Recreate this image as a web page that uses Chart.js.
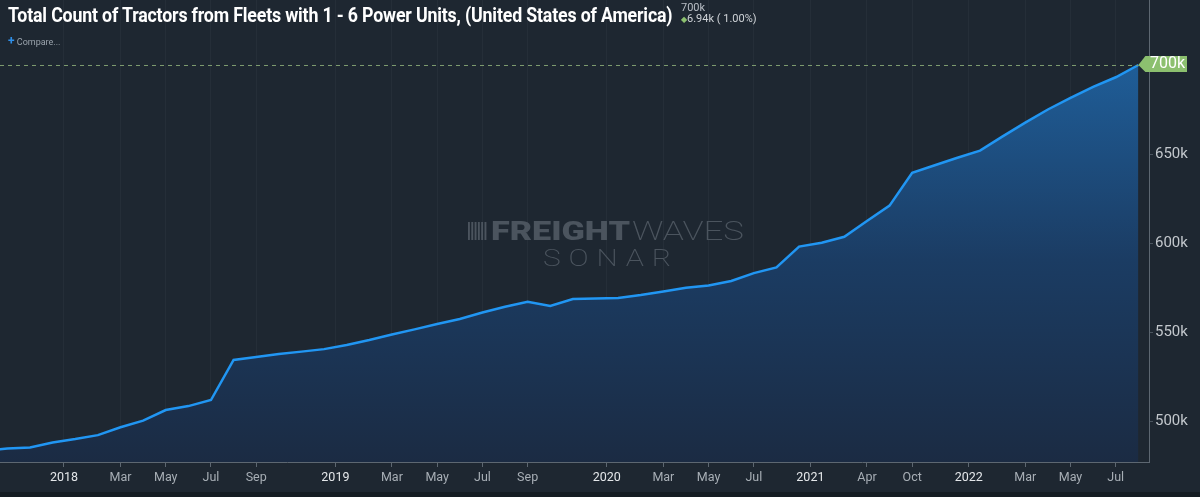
<!DOCTYPE html>
<html>
<head>
<meta charset="utf-8">
<script src="https://cdn.jsdelivr.net/npm/chart.js@4.4.1/dist/chart.umd.min.js"></script>
<style>
  html, body { margin: 0; padding: 0; background: #1e2731; }
  #wrap { position: relative; width: 1200px; height: 497px; }
  #title {
    position: absolute; left: 8px; top: 3px; color: #ffffff;
    font: bold 20px Roboto, sans-serif; white-space: nowrap;
    transform-origin: 0 0; letter-spacing: -0.2px;
  }
  #last { position: absolute; left: 681px; top: 2px; font: 11px Roboto, sans-serif; color: #b8bec5; line-height: 11px; }
  #last .chg { color: #d0d4d8; }
  #last .dia { color: #8cc06f; font-size: 8px; }
  #compare { position: absolute; left: 8px; top: 34px; font: 9px Roboto, sans-serif; color: #9aa3ac; }
  #compare b { color: #2f8fe8; font-size: 12px; font-weight: bold; }
</style>
</head>
<body>
<div id="wrap">
  <canvas id="chart" width="1200" height="497"></canvas>
  <div id="title">Total Count of Tractors from Fleets with 1 - 6 Power Units, (United States of America)</div>
  <div id="last">700k<br><span class="dia">&#9670;</span><span class="chg">6.94k ( 1.00%)</span></div>
  <div id="compare"><b>+</b> Compare...</div>
</div>
<script>
// one point per reported month (some months missing in late 2020 / 2021)
const months = [
  '2017-09', '2017-10', '2017-11', '2017-12',
  '2018-01', '2018-02', '2018-03', '2018-04', '2018-05', '2018-06',
  '2018-07', '2018-08', '2018-09', '2018-10', '2018-11', '2018-12',
  '2019-01', '2019-02', '2019-03', '2019-04', '2019-05', '2019-06',
  '2019-07', '2019-08', '2019-09', '2019-10', '2019-11', '2019-12',
  '2020-01', '2020-02', '2020-03', '2020-04', '2020-05', '2020-06',
  '2020-07', '2020-09', '2020-11',
  '2021-01', '2021-03', '2021-04', '2021-07', '2021-10', '2021-11', '2021-12',
  '2022-01', '2022-02', '2022-03', '2022-04', '2022-05', '2022-06',
  '2022-07', '2022-08'
];

// tractors, thousands
const tractors = [
  483.2, 484.6, 485.2, 488.0,
  489.9, 492.1, 496.5, 500.2, 506.2, 508.4,
  511.8, 534.3, 536.0, 537.6, 539.0, 540.4,
  542.7, 545.5, 548.6, 551.5, 554.5, 557.3,
  561.0, 564.2, 567.0, 564.6, 568.5, 568.8,
  569.1, 570.8, 572.8, 574.9, 576.2, 578.7,
  583.1, 586.3, 598.0,
  600.2, 603.5, 612.4, 621.0, 639.5, 643.7, 647.9,
  651.9, 659.9, 667.6, 675.0, 681.5, 687.7,
  693.1, 700.0
];

// x-axis labels: years sit between Dec and Jan, months on their point
const xTickLabels = [
  '2018', 'Mar', 'May', 'Jul', 'Sep',
  '2019', 'Mar', 'May', 'Jul', 'Sep',
  '2020', 'Mar', 'May', 'Jul',
  '2021', 'Apr', 'Oct',
  '2022', 'Mar', 'May', 'Jul'
];
const xTickMonths = [
  '2018-01', '2018-03', '2018-05', '2018-07', '2018-09',
  '2019-01', '2019-03', '2019-05', '2019-07', '2019-09',
  '2020-01', '2020-03', '2020-05', '2020-07',
  '2021-01', '2021-04', '2021-10',
  '2022-01', '2022-03', '2022-05', '2022-07'
];

const yTicks = [500, 550, 600, 650];

const tickPos = xTickMonths.map((m, i) => {
  const idx = months.indexOf(m);
  return /^\d{4}$/.test(xTickLabels[i]) ? idx - 0.5 : idx;
});
const tickLabelAt = {};
tickPos.forEach((p, i) => { tickLabelAt[p] = xTickLabels[i]; });

const last = tractors.length - 1;

// draw text squeezed/stretched to a given width
function fitText(c, txt, x, y, w) {
  const m = c.measureText(txt).width;
  c.save();
  c.translate(x, y);
  c.scale(w / m, 1);
  c.fillText(txt, 0, 0);
  c.restore();
}

const decor = {
  id: 'decor',
  beforeDraw(chart) {
    const c = chart.ctx;
    c.save();
    c.fillStyle = '#1e2731';
    c.fillRect(0, 0, chart.width, chart.height);
    c.fillStyle = '#151c23';
    c.fillRect(0, 492, chart.width, chart.height - 492);
    c.restore();
  },
  beforeDatasetsDraw(chart) {
    const c = chart.ctx;
    c.save();
    // watermark
    c.fillStyle = '#4b545e';
    for (let i = 0; i < 6; i++) {
      c.fillRect(468 + i * 3.3, 222, 1.9, 18);
    }
    c.textBaseline = 'alphabetic';
    c.font = '900 25px Roboto';
    fitText(c, 'FREIGHT', 491, 240, 139);
    c.font = '200 25px Roboto';
    fitText(c, 'WAVES', 632, 240, 112);
    c.font = '200 23px Roboto';
    c.letterSpacing = '6px';
    fitText(c, 'SONAR', 543, 266, 136);
    c.letterSpacing = '0px';
    // zoom buttons
    c.fillStyle = 'rgba(255,255,255,0.035)';
    c.fillRect(572, 424, 46, 18);
    c.fillStyle = '#d6dade';
    c.font = 'bold 15px Roboto';
    c.textAlign = 'center';
    c.textBaseline = 'middle';
    c.fillText('\u2212', 582, 433);
    c.fillText('+', 606, 433);
    c.restore();
  },
  afterDatasetsDraw(chart) {
    const c = chart.ctx;
    const x = chart.scales.x.getPixelForValue(last);
    const y = chart.scales.y.getPixelForValue(tractors[last]);
    c.save();
    c.strokeStyle = '#7f9c70';
    c.lineWidth = 1;
    c.setLineDash([4, 4]);
    c.beginPath();
    c.moveTo(0, y + 0.5);
    c.lineTo(x, y + 0.5);
    c.stroke();
    c.setLineDash([]);
    // last value tag
    c.fillStyle = '#8cc06f';
    c.beginPath();
    c.moveTo(x, y);
    c.lineTo(x + 7, y - 9);
    c.lineTo(1187, y - 9);
    c.lineTo(1187, y + 7);
    c.lineTo(x + 7, y + 7);
    c.closePath();
    c.fill();
    c.fillStyle = '#ffffff';
    c.font = '16px Roboto';
    c.textBaseline = 'middle';
    c.fillText(tractors[last].toFixed(0) + 'k', 1150, y - 1);
    c.restore();
  }
};

const ctx = document.getElementById('chart').getContext('2d');
const grad = ctx.createLinearGradient(0, 60, 0, 462);
grad.addColorStop(0, '#1f5e99');
grad.addColorStop(0.5, '#1b3c63');
grad.addColorStop(1, '#1b2b43');

new Chart(ctx, {
  type: 'line',
  data: {
    datasets: [{
      data: tractors.map((v, i) => ({ x: i, y: v })),
      borderColor: '#2196f3',
      borderWidth: 2.5,
      backgroundColor: grad,
      fill: 'start',
      pointRadius: 0,
      tension: 0
    }]
  },
  options: {
    responsive: false,
    animation: false,
    layout: { padding: 0 },
    plugins: { legend: { display: false }, tooltip: { enabled: false } },
    scales: {
      x: {
        type: 'linear',
        min: 0.673,
        max: 51.47,
        afterBuildTicks: (axis) => { axis.ticks = tickPos.map(v => ({ value: v })); },
        afterFit: (axis) => { axis.height = 35; axis.paddingLeft = 0; axis.paddingRight = 0; },
        grid: { color: 'rgba(255,255,255,0.035)', tickColor: '#5d6771', tickLength: 5 },
        border: { color: '#5d6771', width: 1 },
        ticks: {
          autoSkip: false,
          maxRotation: 0,
          padding: 3,
          font: { family: 'Roboto', size: 12.5 },
          color: (c) => /^\d{4}$/.test(tickLabelAt[c.tick.value]) ? '#e4e7ea' : '#a7aeb5',
          callback: (v) => tickLabelAt[v] || ''
        }
      },
      y: {
        position: 'right',
        min: 477,
        max: 736.5,
        afterBuildTicks: (axis) => { axis.ticks = yTicks.map(v => ({ value: v })); },
        afterFit: (axis) => { axis.width = 51; axis.paddingTop = 0; axis.paddingBottom = 0; },
        grid: { drawOnChartArea: false, tickColor: '#4a545e', tickLength: 4 },
        border: { color: '#5d6771', width: 1 },
        ticks: {
          padding: 2,
          font: { family: 'Roboto', size: 15 },
          color: '#c3c8cd',
          callback: (v) => v + 'k'
        }
      }
    }
  },
  plugins: [decor]
});

// squeeze title to the condensed width of the original
const t = document.getElementById('title');
t.style.transform = 'scaleX(' + (664 / t.scrollWidth) + ')';
</script>
</body>
</html>
